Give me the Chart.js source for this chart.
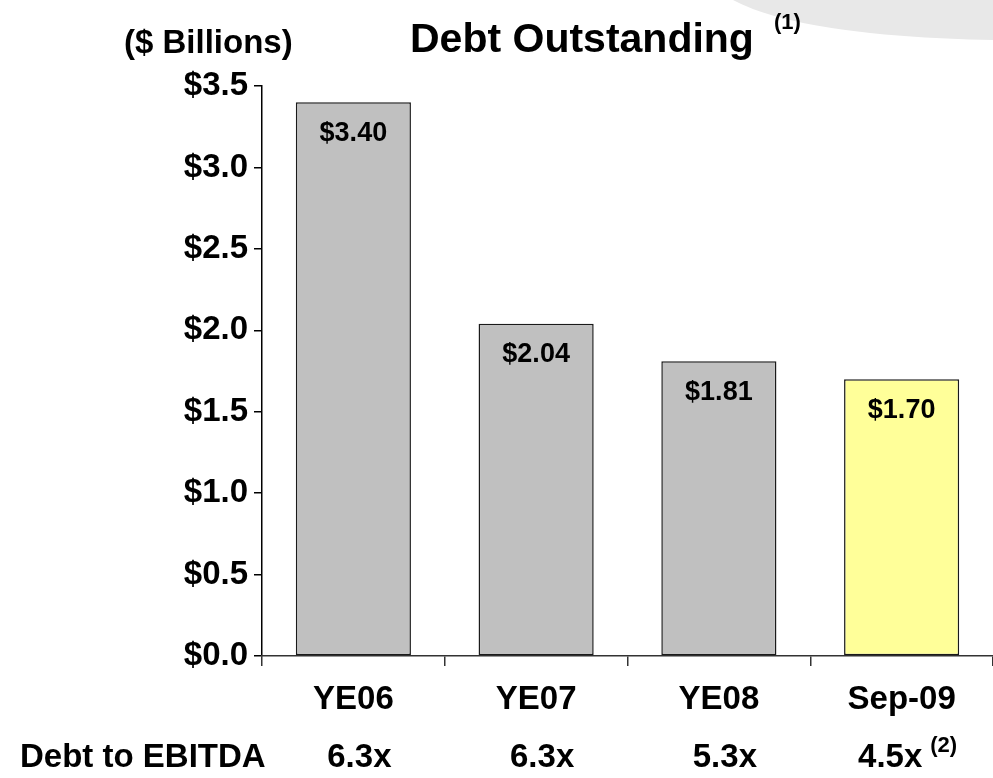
<!DOCTYPE html>
<html>
<head>
<meta charset="utf-8">
<script src="https://cdn.jsdelivr.net/npm/chart.js@4.4.1/dist/chart.umd.min.js"></script>
<style>
  html, body { margin: 0; padding: 0; background: #fff; }
  #wrap { width: 993px; height: 778px; position: relative; }
</style>
</head>
<body>
<div id="wrap"><canvas id="debtChart" width="993" height="778"></canvas></div>
<script>
// Dados do gráfico
const categories = ['YE06', 'YE07', 'YE08', 'Sep-09'];
const debtValues = [3.40, 2.04, 1.81, 1.70];
const debtToEbitda = ['6.3x', '6.3x', '5.3x', '4.5x'];
const ebitdaNotes = ['', '', '', '(2)'];
const yTicks = [0, 0.5, 1.0, 1.5, 2.0, 2.5, 3.0, 3.5];

const FONT = "'Liberation Sans', Arial, Helvetica, sans-serif";

const barColors = ['#c0c0c0', '#c0c0c0', '#c0c0c0', '#ffff99'];

// Decoração, títulos e rótulos
const overlayPlugin = {
    id: 'overlay',
    beforeDraw(chart) {
        const ctx = chart.ctx;
        ctx.save();
        ctx.fillStyle = '#e8e8e8';
        ctx.beginPath();
        ctx.moveTo(733, 0);
        ctx.quadraticCurveTo(800, 36, 993, 40);
        ctx.lineTo(993, 0);
        ctx.closePath();
        ctx.fill();
        ctx.restore();
    },
    afterDraw(chart) {
        const ctx = chart.ctx;
        const x = chart.scales.x;
        ctx.save();
        ctx.fillStyle = '#000';
        ctx.textBaseline = 'alphabetic';

        // Títulos
        ctx.font = `bold 33px ${FONT}`;
        ctx.textAlign = 'left';
        ctx.fillText('($ Billions)', 124, 53);
        ctx.font = `bold 41px ${FONT}`;
        ctx.fillText('Debt Outstanding', 410, 52);
        const tw = ctx.measureText('Debt Outstanding').width;
        ctx.font = `bold 22px ${FONT}`;
        ctx.fillText('(1)', 410 + tw + 20, 29);

        // Valores nas barras
        const meta = chart.getDatasetMeta(0);
        ctx.font = `bold 27px ${FONT}`;
        ctx.textAlign = 'center';
        ctx.textBaseline = 'middle';
        meta.data.forEach((bar, i) => {
            ctx.fillText('$' + debtValues[i].toFixed(2), bar.x, bar.y + 31);
        });

        // Linha Debt to EBITDA
        ctx.textBaseline = 'alphabetic';
        ctx.font = `bold 33px ${FONT}`;
        ctx.textAlign = 'left';
        ctx.fillText('Debt to EBITDA', 20, 767);
        categories.forEach((c, i) => {
            const cx = x.getPixelForValue(i) + 6;
            ctx.font = `bold 33px ${FONT}`;
            const w1 = ctx.measureText(debtToEbitda[i]).width;
            let w2 = 0;
            if (ebitdaNotes[i]) {
                ctx.font = `bold 22px ${FONT}`;
                w2 = ctx.measureText(ebitdaNotes[i]).width + 8;
            }
            const start = cx - (w1 + w2) / 2;
            ctx.font = `bold 33px ${FONT}`;
            ctx.fillText(debtToEbitda[i], start, 767);
            if (ebitdaNotes[i]) {
                ctx.font = `bold 22px ${FONT}`;
                ctx.fillText(ebitdaNotes[i], start + w1 + 8, 752);
            }
        });
        ctx.restore();
    }
};

const ctx = document.getElementById('debtChart').getContext('2d');
const debtChart = new Chart(ctx, {
    type: 'bar',
    data: {
        labels: categories,
        datasets: [{
            label: 'Debt Outstanding',
            data: debtValues,
            backgroundColor: barColors,
            borderColor: '#1a1a1a',
            borderWidth: 1.5,
            borderSkipped: false,
            categoryPercentage: 1,
            barPercentage: 0.63
        }]
    },
    options: {
        responsive: false,
        animation: false,
        layout: { padding: { top: 86, right: 0, bottom: 0, left: 0 } },
        plugins: {
            legend: { display: false },
            tooltip: { enabled: false }
        },
        scales: {
            y: {
                min: 0,
                max: 3.5,
                afterFit(scale) { scale.width = 262; },
                afterBuildTicks(scale) { scale.ticks = yTicks.map(v => ({ value: v })); },
                border: { display: true, color: '#000', width: 1.5 },
                grid: { drawOnChartArea: false, color: '#000', tickLength: 8, lineWidth: 1.5 },
                ticks: {
                    color: '#000',
                    padding: 6,
                    font: { family: FONT, size: 33, weight: 'bold' },
                    callback: v => '$' + Number(v).toFixed(1)
                }
            },
            x: {
                afterFit(scale) { scale.height = 122; },
                border: { display: true, color: '#333', width: 1.5 },
                grid: { drawOnChartArea: false, color: '#333', tickLength: 10, lineWidth: 1.5, offset: true },
                ticks: {
                    color: '#000',
                    padding: 14,
                    font: { family: FONT, size: 33, weight: 'bold' }
                }
            }
        }
    },
    plugins: [overlayPlugin]
});
</script>
</body>
</html>
